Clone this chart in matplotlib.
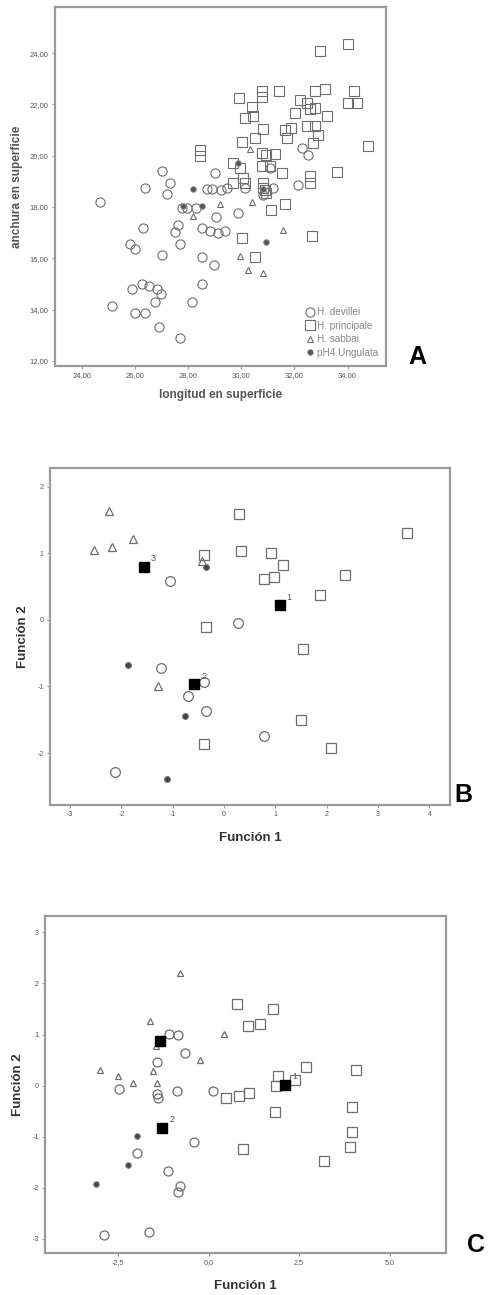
import matplotlib
matplotlib.use("Agg")
import matplotlib.pyplot as plt

# ---- panel A: longitud / anchura en superficie ----
a_dev_x = [24.69, 25.13, 25.82, 26.00, 26.32, 26.38, 27.01, 27.32, 27.20, 27.63, 27.51, 27.70,
           27.01, 28.51, 28.99, 28.51, 25.88, 26.26, 26.53, 26.82, 26.98, 26.76, 26.00, 26.38,
           26.91, 27.70, 28.14, 28.51, 28.82, 29.14, 29.39, 29.05, 29.01, 27.95, 27.76, 28.32,
           28.70, 28.89, 29.26, 29.45, 29.89, 30.14, 32.15, 32.27, 32.52, 31.21, 30.83, 31.08]
a_dev_y = [18.21, 14.12, 16.56, 16.35, 17.17, 18.73, 19.42, 18.95, 18.51, 17.30, 17.04, 16.56,
           16.13, 16.04, 15.74, 15.00, 14.79, 15.00, 14.90, 14.79, 14.61, 14.31, 13.86, 13.86,
           13.31, 12.88, 14.31, 17.17, 17.08, 17.00, 17.08, 17.60, 19.32, 17.95, 17.95, 17.95,
           18.69, 18.69, 18.67, 18.73, 17.76, 18.73, 18.86, 20.29, 20.03, 18.73, 18.47, 19.51]
a_pri_x = [28.45, 28.45, 32.96, 34.03, 29.93, 30.77, 31.43, 30.39, 30.45, 30.14, 30.77, 32.77,
           33.15, 34.24, 32.21, 32.46, 32.58, 32.77, 32.02, 33.21, 34.03, 34.34, 31.64, 31.89,
           31.71, 32.46, 32.77, 32.90, 30.83, 30.02, 30.52, 32.71, 34.78, 30.77, 30.95, 31.27,
           29.70, 29.95, 30.08, 30.77, 31.08, 31.52, 33.59, 29.70, 30.14, 30.83, 30.89, 32.58,
           32.58, 31.14, 31.64, 32.65, 30.02, 30.52, 30.83, 30.95]
a_pri_y = [20.23, 19.97, 24.07, 24.36, 22.24, 22.54, 22.54, 21.89, 21.53, 21.46, 22.28, 22.54,
           22.60, 22.54, 22.18, 22.05, 21.82, 21.85, 21.66, 21.53, 22.05, 22.05, 21.01, 21.07,
           20.68, 21.14, 21.17, 20.81, 21.04, 20.55, 20.68, 20.51, 20.36, 20.12, 20.03, 20.07,
           19.71, 19.51, 19.12, 19.58, 19.58, 19.34, 19.38, 18.93, 18.93, 18.93, 18.67, 19.19,
           18.93, 17.89, 18.12, 16.85, 16.78, 16.04, 18.73, 18.54]
a_sab_x = [30.33, 29.20, 30.39, 31.58, 29.95, 30.26, 30.83, 28.20]
a_sab_y = [20.25, 18.12, 18.21, 17.11, 16.07, 15.55, 15.42, 17.63]
a_ung_x = [27.82, 28.20, 29.89, 30.95, 28.51, 30.83]
a_ung_y = [18.02, 18.69, 19.73, 16.65, 18.02, 18.70]

a_xticks = [24, 26, 28, 30, 32, 34]
a_yticks = [12, 14, 16, 18, 20, 22, 24]
legend_names = ["H. devillei", "H. principale", "H. sabbai", "pH4 Ungulata"]

# ---- panel B: funciones discriminantes ----
b_dev_x = [-1.06, 0.27, -1.23, -0.71, -0.40, -0.36, 0.77, -2.13]
b_dev_y = [0.58, -0.04, -0.72, -1.14, -0.94, -1.37, -1.75, -2.28]
b_pri_x = [0.29, -0.39, 0.32, 0.91, 1.14, 0.77, 0.97, 2.36, 1.87, -0.36, 1.53, 1.50, -0.40, 2.08, 3.57]
b_pri_y = [1.59, 0.98, 1.04, 1.01, 0.82, 0.61, 0.65, 0.68, 0.38, -0.11, -0.44, -1.50, -1.86, -1.93, 1.30]
b_sab_x = [-2.25, -2.53, -2.19, -1.77, -1.28, -0.43]
b_sab_y = [1.63, 1.05, 1.10, 1.22, -0.99, 0.88]
b_ung_x = [-1.88, -0.77, -1.12, -0.36]
b_ung_y = [-0.68, -1.44, -2.39, 0.79]
b_cen_x = [1.08, -0.58, -1.56]
b_cen_y = [0.22, -0.97, 0.80]
b_cen_lab = ["1", "2", "3"]

# ---- panel C ----
c_dev_x = [-1.10, -0.83, -0.64, -1.43, -2.47, -1.40, -1.41, -0.87, 0.12, -0.41, -1.98,
           -1.13, -0.78, -0.84, -2.88, -1.63]
c_dev_y = [1.01, 1.00, 0.63, 0.46, -0.07, -0.25, -0.16, -0.11, -0.11, -1.11, -1.33,
           -1.68, -1.96, -2.08, -2.92, -2.87]
c_pri_x = [0.78, 1.78, 1.09, 1.41, 2.70, 4.07, 1.91, 1.87, 2.39, 0.49, 0.83, 1.13,
           1.84, 3.96, 3.96, 3.91, 0.95, 3.19]
c_pri_y = [1.59, 1.50, 1.16, 1.21, 0.36, 0.31, 0.18, -0.01, 0.11, -0.24, -0.20, -0.14,
           -0.51, -0.41, -0.91, -1.21, -1.24, -1.47]
c_sab_x = [-0.78, -1.61, 0.43, -0.23, -2.99, -2.50, -2.09, -1.41, -1.52, -1.44]
c_sab_y = [2.21, 1.27, 1.01, 0.50, 0.31, 0.18, 0.05, 0.05, 0.29, 0.78]
c_ung_x = [-1.96, -2.23, -3.10]
c_ung_y = [-0.99, -1.55, -1.93]
c_cen_x = [2.12, -1.27, -1.33]
c_cen_y = [0.02, -0.83, 0.87]
c_cen_lab = ["1", "2", ""]
c_xticks = [-2.5, 0.0, 2.5, 5.0]

edge = "#6e6e6e"
frame = "#9a9a9a"
txt = "#555555"

plt.rcParams['font.family'] = ['Liberation Sans', 'DejaVu Sans']
plt.rcParams['axes.unicode_minus'] = False

fig = plt.figure(figsize=(4.88, 12.95), dpi=100)


def style(ax, lsize):
    for s in ax.spines.values():
        s.set_color(frame)
        s.set_linewidth(1.6)
    ax.tick_params(direction='out', length=2.5, width=0.8, color=frame,
                   labelsize=lsize, labelcolor=txt, pad=2)


def groups(ax, dx, dy, px, py, sx, sy, ux, uy, ms, sq):
    ax.plot(dx, dy, 'o', ms=ms, mfc='none', mec=edge, mew=0.9)
    ax.plot(px, py, 's', ms=sq, mfc='none', mec=edge, mew=0.9)
    ax.plot(sx, sy, '^', ms=ms * 0.75, mfc='none', mec=edge, mew=0.9)
    ax.plot(ux, uy, 'o', ms=ms * 0.6, mfc='#444444', mec='#777777', mew=0.8)


# A
axA = fig.add_axes([0.1127, 0.7174, 0.678, 0.2772])
style(axA, 5.5)
axA.plot(a_dev_x, a_dev_y, 'o', ms=6.6, mfc='none', mec=edge, mew=0.8, label=legend_names[0])
axA.plot(a_pri_x, a_pri_y, 's', ms=6.6, mfc='none', mec=edge, mew=0.8, label=legend_names[1])
axA.plot(a_sab_x, a_sab_y, '^', ms=5, mfc='none', mec=edge, mew=0.8, label=legend_names[2])
axA.plot(a_ung_x, a_ung_y, 'o', ms=4, mfc='#555555', mec='#888888', mew=0.7, label=legend_names[3])
axA.set_xlim(23.0, 35.44)
axA.set_ylim(11.8, 25.8)
axA.set_xticks(a_xticks)
axA.set_xticklabels(["%d,00" % v for v in a_xticks])
axA.set_yticks(a_yticks)
axA.set_yticklabels(["%d,00" % v for v in a_yticks])
axA.set_xlabel("longitud en superficie", fontsize=8.5, color=txt, fontweight='bold', labelpad=7)
axA.set_ylabel("anchura en superficie", fontsize=8.5, color=txt, fontweight='bold', labelpad=5)
leg = axA.legend(loc='lower right', frameon=False, fontsize=7.2, handletextpad=0.35,
                 handlelength=0.7, labelspacing=0.35, borderaxespad=0.4)
for t in leg.get_texts():
    t.set_color("#888888")
fig.text(417 / 488, 1 - 357 / 1295, "A", fontsize=18, fontweight='bold',
         ha='center', va='center')

# B
axB = fig.add_axes([0.1025, 0.3784, 0.8197, 0.2602])
style(axB, 5)
groups(axB, b_dev_x, b_dev_y, b_pri_x, b_pri_y, b_sab_x, b_sab_y, b_ung_x, b_ung_y, 7, 7)
axB.plot(b_cen_x, b_cen_y, 's', ms=7.5, mfc='black', mec='black')
for x, y, s in zip(b_cen_x, b_cen_y, b_cen_lab):
    axB.annotate(s, (x, y), xytext=(5, 4), textcoords='offset points', fontsize=6.5, color=txt)
axB.set_xlim(-3.39, 4.40)
axB.set_ylim(-2.78, 2.28)
axB.set_xticks(range(-3, 5))
axB.set_yticks(range(-2, 3))
axB.set_xlabel("Función 1", fontsize=9.5, color='#333333', fontweight='bold', labelpad=10)
axB.set_ylabel("Función 2", fontsize=9.5, color='#333333', fontweight='bold', labelpad=6)
fig.text(463 / 488, 1 - 795 / 1295, "B", fontsize=18, fontweight='bold',
         ha='center', va='center')

# C
axC = fig.add_axes([0.0922, 0.0324, 0.8217, 0.2602])
style(axC, 5.2)
groups(axC, c_dev_x, c_dev_y, c_pri_x, c_pri_y, c_sab_x, c_sab_y, c_ung_x, c_ung_y, 6.5, 6.5)
axC.plot(c_cen_x, c_cen_y, 's', ms=7.5, mfc='black', mec='black')
for x, y, s in zip(c_cen_x, c_cen_y, c_cen_lab):
    axC.annotate(s, (x, y), xytext=(5, 4), textcoords='offset points', fontsize=6.5, color=txt)
axC.set_xlim(-4.51, 6.55)
axC.set_ylim(-3.28, 3.32)
axC.set_xticks(c_xticks)
axC.set_xticklabels([("%.1f" % v).replace(".", ",") for v in c_xticks])
axC.set_yticks(range(-3, 4))
axC.set_xlabel("Función 1", fontsize=9.5, color='#333333', fontweight='bold', labelpad=10)
axC.set_ylabel("Función 2", fontsize=9.5, color='#333333', fontweight='bold', labelpad=6)
fig.text(476 / 488, 1 - 1245 / 1295, "C", fontsize=18, fontweight='bold',
         ha='center', va='center')

fig.savefig("out.png", dpi=100)
